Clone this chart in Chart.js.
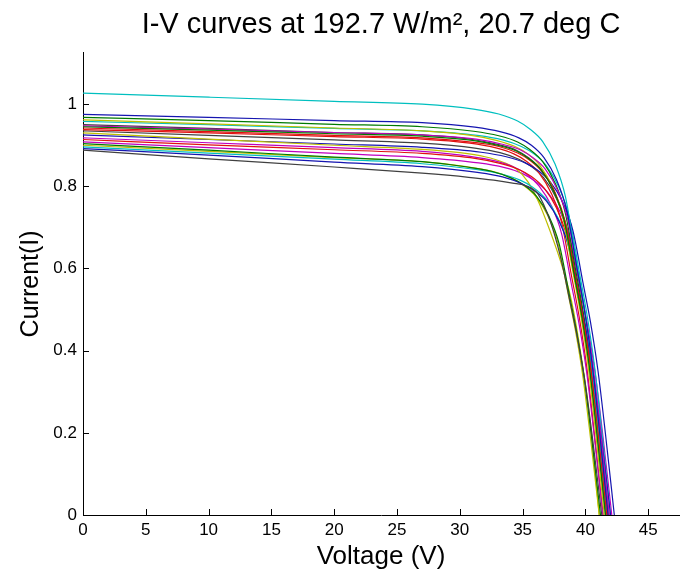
<!DOCTYPE html>
<html>
<head>
<meta charset="utf-8">
<script src="https://cdn.jsdelivr.net/npm/chart.js@4"></script>
<style>
  html, body { margin: 0; padding: 0; background: #fff; }
</style>
</head>
<body>
<canvas id="ivChart" width="687" height="574"></canvas>
<script>
// voltage (V) points of each I-V curve
const curveVolts = [
  [0, 10, 20, 27, 31.2, 33.2, 34.7, 35.7, 36.7, 37.7, 38.5, 39.3, 39.9, 40.5, 41.1, 41.8],
  [0, 10, 20, 27, 31, 33, 34.5, 35.5, 36.5, 37.5, 38.3, 39.1, 39.7, 40.3, 40.9, 41.6],
  [0, 10, 20, 27, 31.1, 33.1, 34.6, 35.6, 36.6, 37.6, 38.4, 39.2, 39.8, 40.4, 41.0, 41.7],
  [0, 10, 20, 27, 31.1, 33.1, 34.6, 35.6, 36.6, 37.6, 38.4, 39.2, 39.8, 40.4, 41.0, 41.7],
  [0, 10, 20, 27, 31.3, 33.3, 34.8, 35.8, 36.8, 37.8, 38.6, 39.4, 40.0, 40.6, 41.2, 41.9],
  [0, 10, 20, 27, 30.9, 32.9, 34.4, 35.4, 36.4, 37.4, 38.2, 39.0, 39.6, 40.2, 40.8, 41.5],
  [0, 10, 20, 27, 30.7, 32.7, 34.2, 35.2, 36.2, 37.2, 38.0, 38.8, 39.4, 40.0, 40.6, 41.3],
  [0, 10, 20, 27, 31.4, 33.4, 34.9, 35.9, 36.9, 37.9, 38.7, 39.5, 40.1, 40.7, 41.3, 42.0],
  [0, 10, 20, 27, 30.6, 32.6, 34.1, 35.1, 36.1, 37.1, 37.9, 38.7, 39.3, 39.9, 40.5, 41.2],
  [0, 10, 20, 27, 31.2, 33.2, 34.7, 35.7, 36.7, 37.7, 38.5, 39.3, 39.9, 40.5, 41.1, 41.8],
  [0, 10, 20, 27, 31.3, 33.3, 34.8, 35.8, 36.8, 37.8, 38.6, 39.4, 40.0, 40.6, 41.2, 41.9],
  [0, 10, 20, 27, 30.8, 32.8, 34.3, 35.3, 36.3, 37.3, 38.1, 38.9, 39.5, 40.1, 40.7, 41.4],
  [0, 10, 20, 27, 30, 32, 33.5, 34.5, 35.4, 36.2, 37.2, 38.2, 38.9, 39.7, 40.4, 41.1],
  [0, 10, 20, 27, 31, 33, 34.5, 35.5, 36.5, 37.5, 38.3, 39.1, 39.7, 40.3, 40.9, 41.6],
  [0, 10, 20, 27, 31.7, 33.7, 35.2, 36.2, 37.2, 38.2, 39.0, 39.8, 40.4, 41.0, 41.6, 42.3],
  [0, 10, 20, 27, 31.1, 33.1, 34.6, 35.6, 36.6, 37.6, 38.4, 39.2, 39.8, 40.4, 41.0, 41.7],
  [0, 10, 20, 27, 30.8, 32.8, 34.3, 35.3, 36.3, 37.3, 38.1, 38.9, 39.5, 40.1, 40.7, 41.4],
  [0, 10, 20, 27, 31.4, 33.4, 34.9, 35.9, 36.9, 37.9, 38.7, 39.5, 40.1, 40.7, 41.3, 42.0],
  [0, 10, 20, 27, 31.5, 33.5, 35, 36, 37, 38, 38.8, 39.6, 40.2, 40.8, 41.4, 42.1],
  [0, 10, 20, 27, 30.5, 32.5, 34, 35, 36, 37, 37.8, 38.6, 39.2, 39.8, 40.4, 41.1],
  [0, 10, 20, 27, 31.2, 33.2, 34.7, 35.7, 36.7, 37.7, 38.5, 39.3, 39.9, 40.5, 41.1, 41.8],
];

// current (I) at those voltages
const curveAmps = [
  [0.975, 0.968, 0.960, 0.955, 0.944, 0.933, 0.918, 0.900, 0.870, 0.816, 0.743, 0.606, 0.503, 0.376, 0.210, 0],
  [0.945, 0.937, 0.928, 0.922, 0.912, 0.900, 0.886, 0.867, 0.839, 0.787, 0.717, 0.585, 0.485, 0.363, 0.202, 0],
  [0.942, 0.933, 0.924, 0.918, 0.907, 0.897, 0.881, 0.863, 0.834, 0.784, 0.713, 0.582, 0.483, 0.361, 0.201, 0],
  [1.027, 1.017, 1.007, 1.000, 0.988, 0.976, 0.959, 0.939, 0.909, 0.853, 0.776, 0.633, 0.526, 0.393, 0.219, 0],
  [0.947, 0.939, 0.931, 0.925, 0.915, 0.903, 0.889, 0.870, 0.842, 0.790, 0.719, 0.587, 0.487, 0.364, 0.203, 0],
  [0.962, 0.952, 0.942, 0.935, 0.924, 0.912, 0.897, 0.879, 0.850, 0.797, 0.725, 0.592, 0.491, 0.367, 0.205, 0],
  [0.888, 0.867, 0.847, 0.832, 0.822, 0.815, 0.808, 0.802, 0.782, 0.715, 0.630, 0.515, 0.425, 0.318, 0.178, 0],
  [0.892, 0.876, 0.859, 0.848, 0.834, 0.823, 0.807, 0.790, 0.764, 0.715, 0.651, 0.531, 0.440, 0.329, 0.183, 0],
  [0.904, 0.888, 0.871, 0.860, 0.847, 0.836, 0.820, 0.803, 0.776, 0.727, 0.661, 0.539, 0.446, 0.334, 0.186, 0],
  [0.914, 0.901, 0.889, 0.880, 0.868, 0.856, 0.841, 0.824, 0.796, 0.747, 0.680, 0.555, 0.461, 0.345, 0.192, 0],
  [0.896, 0.881, 0.866, 0.855, 0.841, 0.830, 0.815, 0.798, 0.771, 0.724, 0.659, 0.538, 0.446, 0.334, 0.186, 0],
  [0.918, 0.906, 0.894, 0.885, 0.873, 0.862, 0.847, 0.830, 0.801, 0.752, 0.685, 0.559, 0.464, 0.347, 0.193, 0],
  [0.930, 0.915, 0.900, 0.890, 0.882, 0.872, 0.858, 0.842, 0.812, 0.767, 0.690, 0.600, 0.520, 0.380, 0.220, 0],
  [0.950, 0.941, 0.931, 0.925, 0.914, 0.902, 0.888, 0.869, 0.840, 0.788, 0.718, 0.586, 0.486, 0.364, 0.203, 0],
  [0.925, 0.914, 0.903, 0.895, 0.883, 0.872, 0.857, 0.839, 0.811, 0.761, 0.693, 0.566, 0.470, 0.351, 0.196, 0],
  [0.968, 0.960, 0.951, 0.945, 0.934, 0.923, 0.908, 0.889, 0.860, 0.807, 0.735, 0.600, 0.498, 0.373, 0.208, 0],
  [0.938, 0.930, 0.921, 0.915, 0.905, 0.894, 0.879, 0.861, 0.833, 0.782, 0.712, 0.581, 0.483, 0.361, 0.201, 0],
  [0.958, 0.950, 0.941, 0.935, 0.924, 0.913, 0.897, 0.879, 0.850, 0.797, 0.726, 0.593, 0.492, 0.368, 0.205, 0],
  [0.908, 0.894, 0.880, 0.870, 0.857, 0.846, 0.831, 0.812, 0.785, 0.737, 0.671, 0.548, 0.455, 0.340, 0.190, 0],
  [0.900, 0.885, 0.870, 0.860, 0.848, 0.837, 0.822, 0.804, 0.777, 0.729, 0.664, 0.542, 0.450, 0.337, 0.188, 0],
  [0.935, 0.924, 0.913, 0.905, 0.893, 0.882, 0.866, 0.848, 0.820, 0.770, 0.701, 0.572, 0.475, 0.355, 0.198, 0],
];

const xTicks = [0, 5, 10, 15, 20, 25, 30, 35, 40, 45];
const yTicks = [0, 0.2, 0.4, 0.6, 0.8, 1];

// matlab style colour order
const lineColors = ["#1515b0", "#007a00", "#e01010", "#00bfbf", "#bf00bf", "#bfbf00", "#404040"];

const datasets = curveVolts.map((volts, i) => ({
  label: "curve " + (i + 1),
  data: volts.map((v, j) => ({ x: v, y: curveAmps[i][j] })),
  borderColor: lineColors[i % lineColors.length],
  borderWidth: 1.2,
  pointRadius: 0,
  fill: false,
  cubicInterpolationMode: "monotone",
}));

// ticks pointing into the plot, like matlab
const inwardTicks = {
  id: "inwardTicks",
  afterDraw(chart) {
    const { ctx, chartArea, scales } = chart;
    ctx.save();
    ctx.strokeStyle = "#000";
    ctx.lineWidth = 1;
    ctx.beginPath();
    scales.x.ticks.forEach((t) => {
      const px = Math.round(scales.x.getPixelForValue(t.value)) + 0.5;
      ctx.moveTo(px, chartArea.bottom);
      ctx.lineTo(px, chartArea.bottom - 6);
    });
    scales.y.ticks.forEach((t) => {
      const py = Math.round(scales.y.getPixelForValue(t.value)) + 0.5;
      ctx.moveTo(chartArea.left, py);
      ctx.lineTo(chartArea.left + 6, py);
    });
    ctx.stroke();
    ctx.restore();
  },
};

const fontFamily = "'Liberation Sans', Arial, Helvetica, sans-serif";

new Chart(document.getElementById("ivChart"), {
  type: "line",
  data: { datasets },
  plugins: [inwardTicks],
  options: {
    responsive: false,
    animation: false,
    layout: { padding: { top: 0, left: 0, right: 8, bottom: 0 } },
    plugins: {
      legend: { display: false },
      tooltip: { enabled: false },
      title: {
        display: true,
        text: "I-V curves at 192.7 W/m², 20.7 deg C",
        color: "#000",
        fullSize: false,
        font: { family: fontFamily, size: 29, weight: "normal" },
        padding: { top: 8, bottom: 10 },
      },
    },
    scales: {
      x: {
        type: "linear",
        min: 0,
        max: 47.45,
        afterBuildTicks: (scale) => {
          scale.ticks = xTicks.map((v) => ({ value: v }));
        },
        afterFit: (scale) => {
          scale.height = 59;
        },
        grid: { display: true, drawOnChartArea: false, drawTicks: false },
        border: { display: true, color: "#000", width: 1 },
        ticks: {
          color: "#000",
          padding: 5,
          maxRotation: 0,
          font: { family: fontFamily, size: 17 },
        },
        title: {
          display: true,
          text: "Voltage (V)",
          color: "#000",
          font: { family: fontFamily, size: 26 },
          padding: { top: 0, bottom: 2 },
        },
      },
      y: {
        min: 0,
        max: 1.125,
        afterBuildTicks: (scale) => {
          scale.ticks = yTicks.map((v) => ({ value: v }));
        },
        afterFit: (scale) => {
          scale.width = 83;
        },
        grid: { display: true, drawOnChartArea: false, drawTicks: false },
        border: { display: true, color: "#000", width: 1 },
        ticks: {
          color: "#000",
          padding: 6,
          font: { family: fontFamily, size: 17 },
          callback: (v) => String(Number(v.toFixed(2))),
        },
        title: {
          display: true,
          text: "Current(I)",
          color: "#000",
          font: { family: fontFamily, size: 25 },
          padding: { top: 16, bottom: 0 },
        },
      },
    },
  },
});
</script>
</body>
</html>
